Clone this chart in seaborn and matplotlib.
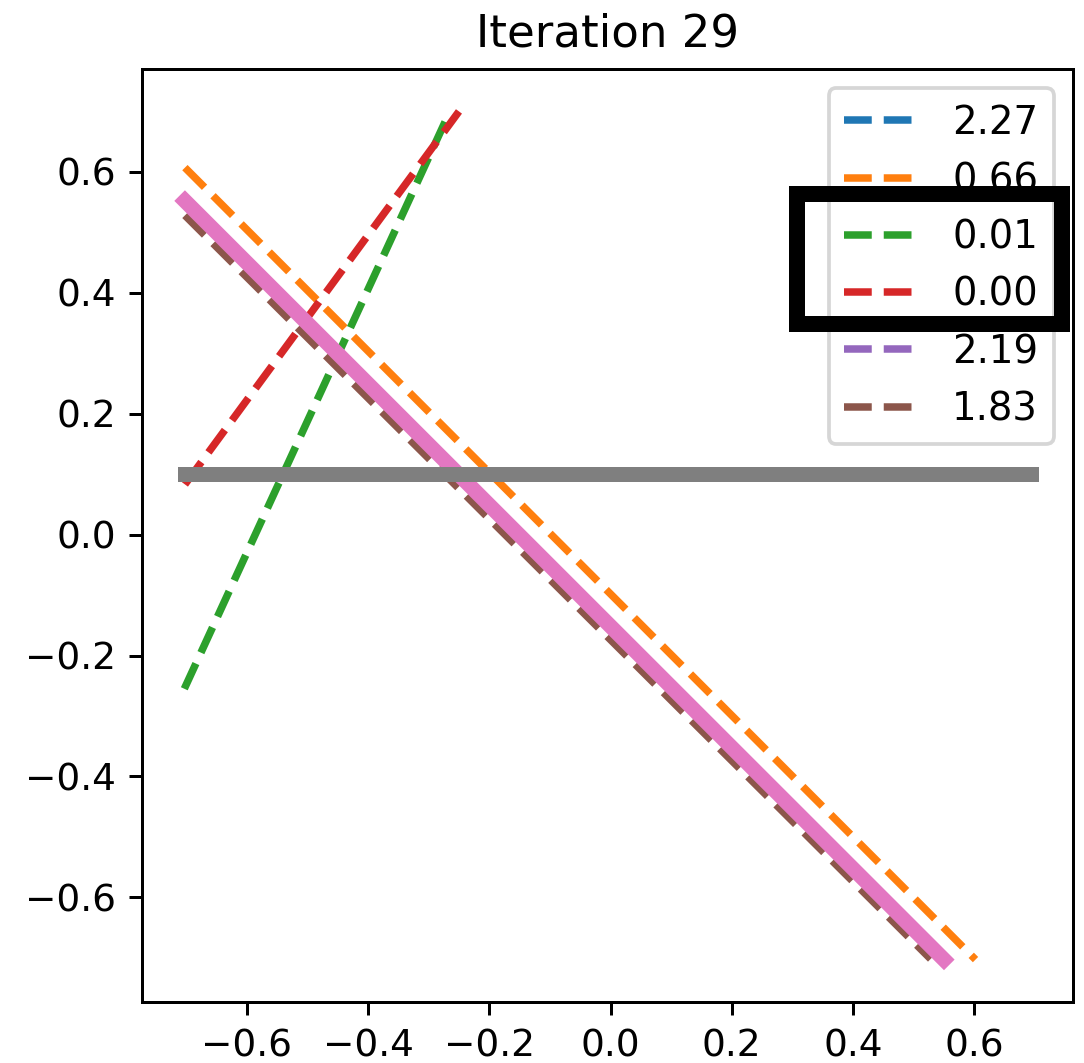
import matplotlib
matplotlib.use("Agg")
import matplotlib.pyplot as plt
import matplotlib.patches as mpatches
import seaborn as sns
import pandas as pd

# Candidate separating lines (legend shows each line's loss)
labels = ["2.27", "0.66", "0.01", "0.00", "2.19", "1.83"]
colors = ["#1f77b4", "#ff7f0e", "#2ca02c", "#d62728", "#9467bd", "#8c564b"]
x_start = [-0.702, -0.702, -0.703, -0.702, -0.702, -0.702]
x_end = [0.548, 0.602, -0.265, -0.250, 0.550, 0.528]
y_start = [0.550, 0.607, -0.255, 0.083, 0.550, 0.528]
y_end = [-0.703, -0.703, 0.700, 0.700, -0.703, -0.702]

# True boundary (solid pink) and the horizontal reference line (gray)
true_x = [-0.702, 0.550]
true_y = [0.552, -0.703]
ref_x = [-0.702, 0.693]
ref_y = [0.100, 0.100]

dpi = 270
fig = plt.figure(figsize=(1084 / dpi, 1063 / dpi), dpi=dpi)
ax = fig.add_axes([142 / 1084, 61 / 1063, 931 / 1084, 933 / 1063])

for lab, col, xs, xe, ys, ye in zip(labels, colors, x_start, x_end, y_start, y_end):
    seg = pd.DataFrame({"x": [xs, xe], "y": [ys, ye]})
    sns.lineplot(data=seg, x="x", y="y", ax=ax, color=col, linestyle="--",
                 linewidth=2, label=lab, sort=False, estimator=None)

sns.lineplot(x=true_x, y=true_y, ax=ax, color="#e377c2", linewidth=4,
             sort=False, estimator=None, legend=False)
sns.lineplot(x=ref_x, y=ref_y, ax=ax, color="#7f7f7f", linewidth=4,
             sort=False, estimator=None, legend=False)

for ln in ax.get_lines()[-2:]:
    ln.set_solid_capstyle("projecting")

ax.set_xlabel("")
ax.set_ylabel("")
ax.set_title("Iteration 29")
ax.legend(loc="upper right", fontsize=10.3)

# Highlight box around the two lowest-loss legend entries
box = mpatches.Rectangle((796.5 / 1084, (1063 - 324) / 1063),
                         265 / 1084, 130 / 1063,
                         transform=fig.transFigure, fill=False,
                         edgecolor="black", linewidth=16 / 3.75,
                         joinstyle="miter", zorder=10)
fig.add_artist(box)

fig.savefig("out.png", dpi=dpi)
